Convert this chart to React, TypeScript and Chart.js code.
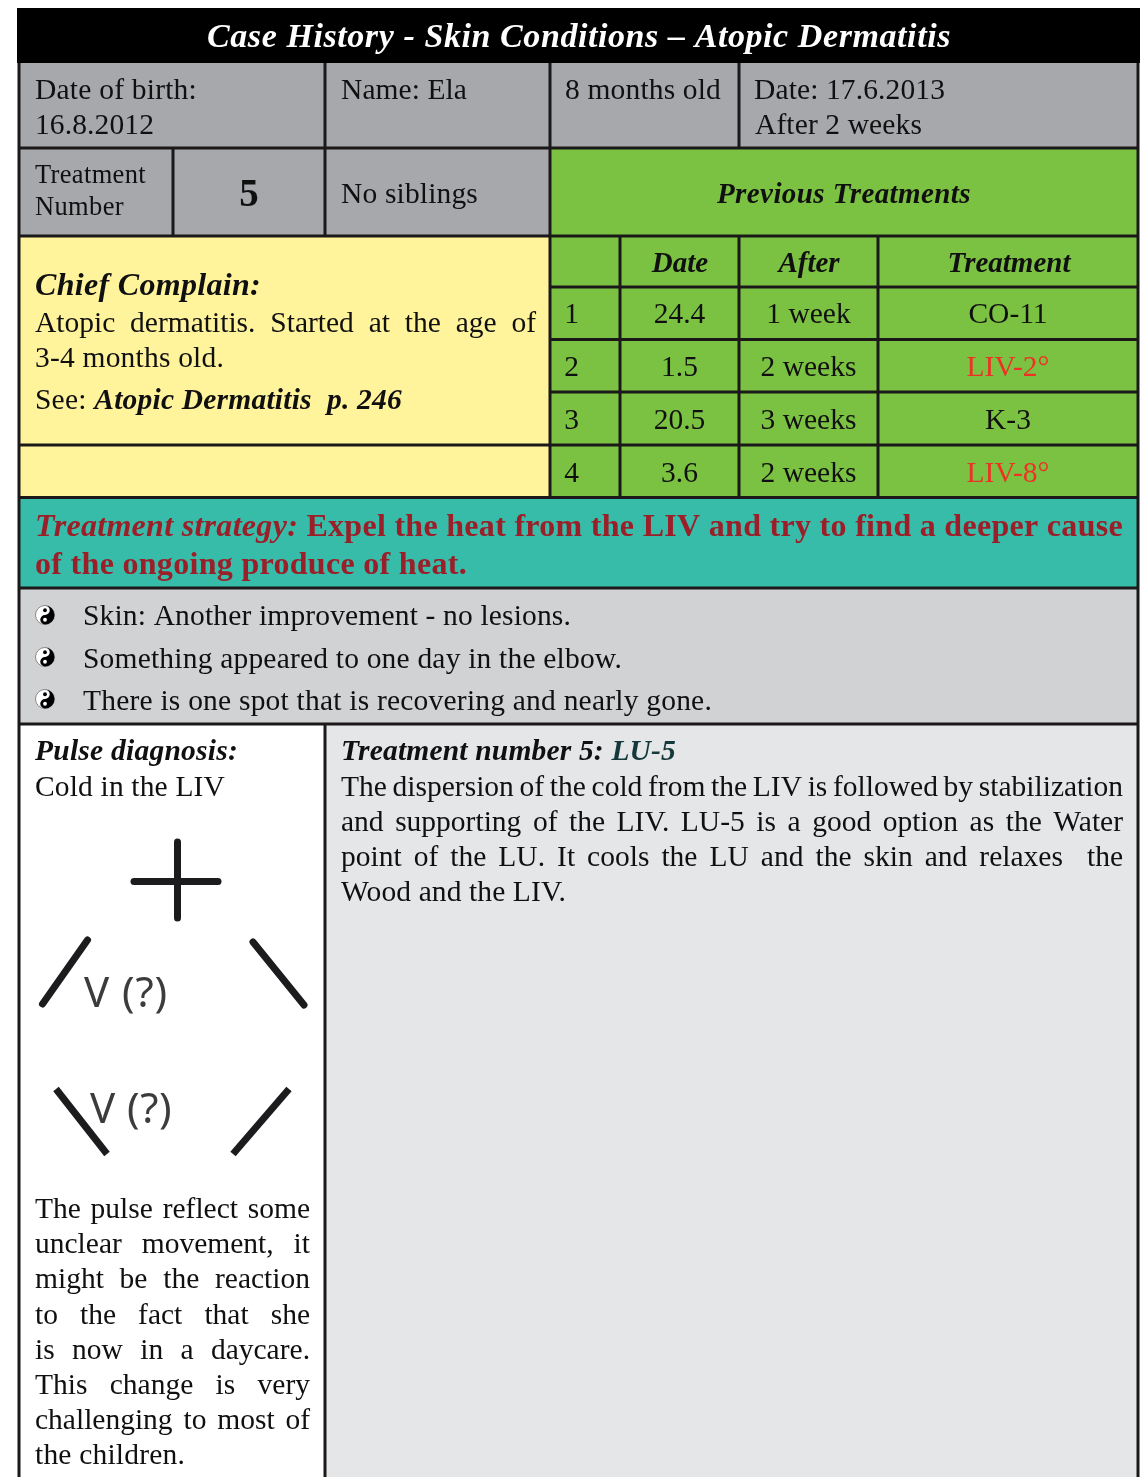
import React, { useEffect, useRef } from "react";
import { Chart, registerables } from "chart.js";

Chart.register(...registerables);

// ---- content ----
const TITLE = "Case History - Skin Conditions – Atopic Dermatitis";
const BIRTH_LINES = ["Date of birth:", "16.8.2012"];
const NAME = "Name: Ela";
const AGE = "8 months old";
const DATE_LINES = ["Date: 17.6.2013", "After 2 weeks"];
const TREATMENT_LABEL = ["Treatment", "Number"];
const TREATMENT_NUMBER = "5";
const SIBLINGS = "No siblings";
const PREVIOUS_TITLE = "Previous Treatments";
const PREVIOUS_HEADERS = ["Date", "After", "Treatment"];
const PREVIOUS_INDEX = ["1", "2", "3", "4"];
const PREVIOUS_DATES = ["24.4", "1.5", "20.5", "3.6"];
const PREVIOUS_AFTER = ["1 week", "2 weeks", "3 weeks", "2 weeks"];
const PREVIOUS_POINTS = ["CO-11", "LIV-2°", "K-3", "LIV-8°"];
const PREVIOUS_HOT = [false, true, false, true];
const COMPLAINT_TITLE = "Chief Complain:";
const COMPLAINT_LINES = ["Atopic dermatitis. Started at the age of", "3-4 months old."];
const SEE_LABEL = "See: ";
const SEE_REF = "Atopic Dermatitis  p. 246";
const STRATEGY_LABEL = "Treatment strategy:";
const STRATEGY_LINE1 = " Expel the heat from the LIV and try to find a deeper cause";
const STRATEGY_LINE2 = "of the ongoing produce of heat.";
const BULLETS = [
  "Skin: Another improvement - no lesions.",
  "Something appeared to one day in the elbow.",
  "There is one spot that is recovering and nearly gone.",
];
const PULSE_TITLE = "Pulse diagnosis:";
const PULSE_SUB = "Cold in the LIV";
const PULSE_MARK = "V (?)";
const PULSE_LINES = [
  "The pulse reflect some",
  "unclear movement, it",
  "might be the reaction",
  "to the fact that she",
  "is now in a daycare.",
  "This change is very",
  "challenging to most of",
  "the children.",
];
const PLAN_LABEL = "Treatment number 5: ";
const PLAN_POINT = "LU-5";
const PLAN_LINES = [
  "The dispersion of the cold from the LIV is followed by stabilization",
  "and supporting of the LIV. LU-5 is a good option as the Water",
  "point of the LU. It cools the LU and the skin and relaxes  the",
  "Wood and the LIV.",
];
// pulse strokes
const PULSE_PLUS_V = [{ x: 177.5, y: 842 }, { x: 177.5, y: 918 }];
const PULSE_PLUS_H = [{ x: 134, y: 881.5 }, { x: 218, y: 881.5 }];
const PULSE_UPPER_L = [{ x: 42.5, y: 1004 }, { x: 87.5, y: 940 }];
const PULSE_UPPER_R = [{ x: 253, y: 942 }, { x: 304, y: 1005 }];
const PULSE_LOWER_L = [{ x: 56, y: 1089 }, { x: 107, y: 1154 }];
const PULSE_LOWER_R = [{ x: 233, y: 1154 }, { x: 289, y: 1089 }];

// ---- styles ----
const SERIF = '"Liberation Serif"';
const INK = "#111011";
const RULE = "#1a1819";
const GREY = "#a7a8ac";
const YELLOW = "#fff49b";
const GREEN = "#7cc242";
const TEAL = "#38bcaa";
const SILVER = "#d1d2d4";
const PALE = "#e5e6e8";
const RED = "#ee3124";
const WINE = "#9b1f28";
const DEEP = "#15393b";

type Seg = { t: string; font: string; color: string };

const tablePlugin = {
  id: "caseTable",
  beforeDatasetsDraw(chart: any) {
    const { ctx, scales } = chart;
    const X = (v: number) => scales.x.getPixelForValue(v);
    const Y = (v: number) => scales.y.getPixelForValue(v);

    const cell = (x0: number, y0: number, x1: number, y1: number, c: string) => {
      ctx.fillStyle = c;
      ctx.fillRect(X(x0), Y(y0), X(x1) - X(x0), Y(y1) - Y(y0));
    };
    const hline = (x0: number, x1: number, y: number, w = 3) => {
      ctx.fillStyle = RULE;
      ctx.fillRect(X(x0), Y(y) - w / 2, X(x1) - X(x0), w);
    };
    const vline = (x: number, y0: number, y1: number, w = 3) => {
      ctx.fillStyle = RULE;
      ctx.fillRect(X(x) - w / 2, Y(y0), w, Y(y1) - Y(y0));
    };
    const run = (segs: Seg[], x: number, y: number, opts: { width?: number; fit?: number; center?: boolean } = {}) => {
      ctx.textBaseline = "alphabetic";
      ctx.textAlign = "left";
      ctx.wordSpacing = "0px";
      ctx.letterSpacing = "0px";
      const natural = segs.reduce((a, s) => {
        ctx.font = s.font;
        return a + ctx.measureText(s.t).width;
      }, 0);
      const chars = segs.reduce((a, s) => a + s.t.length, 0);
      const spaces = segs.reduce((a, s) => a + (s.t.match(/ /g) || []).length, 0);
      let total = natural;
      if (opts.width && spaces) {
        ctx.wordSpacing = `${(opts.width - natural) / spaces}px`;
        total = opts.width;
      } else if (opts.fit) {
        ctx.letterSpacing = `${(opts.fit - natural) / chars}px`;
        total = opts.fit;
      }
      let px = opts.center ? X(x) - total / 2 : X(x);
      for (const s of segs) {
        ctx.font = s.font;
        ctx.fillStyle = s.color;
        ctx.fillText(s.t, px, Y(y) + 1);
        px += ctx.measureText(s.t).width;
      }
      ctx.wordSpacing = "0px";
      ctx.letterSpacing = "0px";
    };
    const plain = (t: string, size: number, c = INK): Seg => ({ t, font: `${size}px ${SERIF}`, color: c });
    const boldItalic = (t: string, size: number, c = INK): Seg => ({ t, font: `italic bold ${size}px ${SERIF}`, color: c });

    const yinyang = (cx: number, cy: number, r: number) => {
      const x = X(cx);
      const y = Y(cy);
      ctx.beginPath();
      ctx.arc(x, y, r, 0, Math.PI * 2);
      ctx.fillStyle = "#fff";
      ctx.fill();
      ctx.strokeStyle = "#8a8a8c";
      ctx.lineWidth = 1;
      ctx.stroke();
      ctx.beginPath();
      ctx.arc(x, y, r, -Math.PI / 2, Math.PI / 2);
      ctx.arc(x, y + r / 2, r / 2, Math.PI / 2, -Math.PI / 2, false);
      ctx.arc(x, y - r / 2, r / 2, Math.PI / 2, -Math.PI / 2, true);
      ctx.fillStyle = "#000";
      ctx.fill();
      ctx.beginPath();
      ctx.arc(x, y + r / 2, r / 5, 0, Math.PI * 2);
      ctx.fillStyle = "#fff";
      ctx.fill();
      ctx.beginPath();
      ctx.arc(x, y - r / 2, r / 5, 0, Math.PI * 2);
      ctx.fillStyle = "#000";
      ctx.fill();
    };

    ctx.save();
    // backgrounds
    cell(17, 8, 1140, 63, "#000");
    cell(20, 63, 1138, 236, GREY);
    cell(550, 148, 1138, 497, GREEN);
    cell(20, 236, 550, 497, YELLOW);
    cell(20, 497, 1138, 588, TEAL);
    cell(20, 588, 1138, 724, SILVER);
    cell(20, 724, 325, 1477, "#fff");
    cell(325, 724, 1138, 1477, PALE);

    // rules
    hline(19, 1138, 148);
    hline(19, 1138, 236);
    [287, 339.5, 392, 445].forEach((y) => hline(550, 1138, y));
    hline(19, 550, 445);
    hline(19, 1138, 497.5);
    hline(19, 1138, 588);
    hline(19, 1138, 724);
    vline(19, 63, 1477);
    vline(1138, 63, 1477);
    vline(325, 63, 236);
    vline(325, 724, 1477);
    vline(173, 148, 236);
    vline(550, 63, 497);
    vline(739, 63, 148);
    [620, 739, 878].forEach((x) => vline(x, 236, 497));

    // header
    run([boldItalic(TITLE, 34, "#fff")], 579, 46, { center: true, fit: 744 });
    run([plain(BIRTH_LINES[0], 29.5)], 35, 98, { fit: 162 });
    run([plain(BIRTH_LINES[1], 29.5)], 35, 133, { fit: 119 });
    run([plain(NAME, 29.5)], 341, 98, { fit: 126 });
    run([plain(AGE, 29.5)], 565, 98, { fit: 156 });
    run([plain(DATE_LINES[0], 29.5)], 754, 98, { fit: 191 });
    run([plain(DATE_LINES[1], 29.5)], 755, 133, { fit: 167 });
    run([plain(TREATMENT_LABEL[0], 26.5)], 35, 182, { fit: 111 });
    run([plain(TREATMENT_LABEL[1], 26.5)], 35, 214, { fit: 89 });
    run([{ t: TREATMENT_NUMBER, font: `bold 39px ${SERIF}`, color: INK }], 249, 205, { center: true });
    run([plain(SIBLINGS, 29.5)], 341, 202, { fit: 137 });
    run([boldItalic(PREVIOUS_TITLE, 29)], 844, 202, { center: true, fit: 254 });

    // previous treatments
    const heads = [680, 809, 1009];
    PREVIOUS_HEADERS.forEach((h, i) => run([boldItalic(h, 29)], heads[i], 271, { center: true }));
    const rows = [322, 375, 428, 481];
    rows.forEach((y, i) => {
      run([plain(PREVIOUS_INDEX[i], 29.5)], 571.5, y, { center: true });
      run([plain(PREVIOUS_DATES[i], 29.5)], 679.5, y, { center: true });
      run([plain(PREVIOUS_AFTER[i], 29.5)], 808.5, y, { center: true });
      run([plain(PREVIOUS_POINTS[i], 29.5, PREVIOUS_HOT[i] ? RED : INK)], 1008, y, { center: true });
    });

    // complaint
    run([boldItalic(COMPLAINT_TITLE, 32)], 35, 294, { fit: 226 });
    run([plain(COMPLAINT_LINES[0], 29.5)], 35, 331, { width: 501 });
    run([plain(COMPLAINT_LINES[1], 29.5)], 35, 366, { fit: 189 });
    run([plain(SEE_LABEL, 29.5), boldItalic(SEE_REF, 29.5)], 35, 408, { fit: 367 });

    // strategy
    run(
      [
        { t: STRATEGY_LABEL, font: `italic bold 32px ${SERIF}`, color: WINE },
        { t: STRATEGY_LINE1, font: `bold 32px ${SERIF}`, color: WINE },
      ],
      35,
      535,
      { fit: 1088 }
    );
    run([{ t: STRATEGY_LINE2, font: `bold 32px ${SERIF}`, color: WINE }], 35, 573, { fit: 432 });

    // findings
    const bulletY = [615, 657, 699];
    const bulletBase = [624, 667, 709];
    const bulletW = [488, 539, 629];
    BULLETS.forEach((b, i) => {
      yinyang(45, bulletY[i], 9.5);
      run([plain(b, 29.5)], 83, bulletBase[i], { fit: bulletW[i] });
    });

    // pulse column
    run([boldItalic(PULSE_TITLE, 29.5)], 35, 759, { fit: 203 });
    run([plain(PULSE_SUB, 29.5)], 35, 795, { fit: 190 });
    const mark = { t: PULSE_MARK, font: `42px "Noto Sans"`, color: "#3c3c3e" };
    run([mark], 84, 1006, { fit: 84 });
    run([mark], 90, 1122, { fit: 82 });
    const pulseY = [1217, 1252, 1287, 1323, 1358, 1393, 1428, 1463];
    PULSE_LINES.forEach((t, i) => {
      const last = i === PULSE_LINES.length - 1;
      run([plain(t, 29.5)], 35, pulseY[i], last ? { fit: 150 } : { width: 275 });
    });

    // plan column
    run([boldItalic(PLAN_LABEL, 29.5), boldItalic(PLAN_POINT, 29.5, DEEP)], 341, 759, { fit: 335 });
    const planY = [795, 830, 865, 900];
    PLAN_LINES.forEach((t, i) => {
      const last = i === PLAN_LINES.length - 1;
      run([plain(t, 29.5)], 341, planY[i], last ? { fit: 225 } : { width: 782 });
    });
    ctx.restore();
  },
};

const stroke = (data: { x: number; y: number }[], cap: string) => ({
  data,
  borderColor: "#1c1c1e",
  borderWidth: 7,
  borderCapStyle: cap,
  pointRadius: 0,
  tension: 0,
  fill: false,
  clip: false as const,
});

export default function App() {
  const ref = useRef<HTMLCanvasElement | null>(null);
  useEffect(() => {
    const chart = new Chart(ref.current as HTMLCanvasElement, {
      type: "line",
      data: {
        datasets: [
          stroke(PULSE_PLUS_V, "round"),
          stroke(PULSE_PLUS_H, "round"),
          stroke(PULSE_UPPER_L, "round"),
          stroke(PULSE_UPPER_R, "round"),
          stroke(PULSE_LOWER_L, "butt"),
          stroke(PULSE_LOWER_R, "butt"),
        ],
      },
      options: {
        animation: false,
        responsive: false,
        devicePixelRatio: 1,
        layout: { padding: 0 },
        plugins: { legend: { display: false }, tooltip: { enabled: false } },
        scales: {
          x: { type: "linear", min: 0, max: 1145, display: false },
          y: { type: "linear", min: 0, max: 1477, reverse: true, display: false },
        },
      },
      plugins: [tablePlugin],
    } as any);
    return () => chart.destroy();
  }, []);
  return (
    <div style={{ position: "absolute", left: 0, top: 0, width: 1145, height: 1477, overflow: "hidden", background: "#fff" }}>
      <canvas ref={ref} width={1145} height={1477} style={{ display: "block" }} />
    </div>
  );
}
